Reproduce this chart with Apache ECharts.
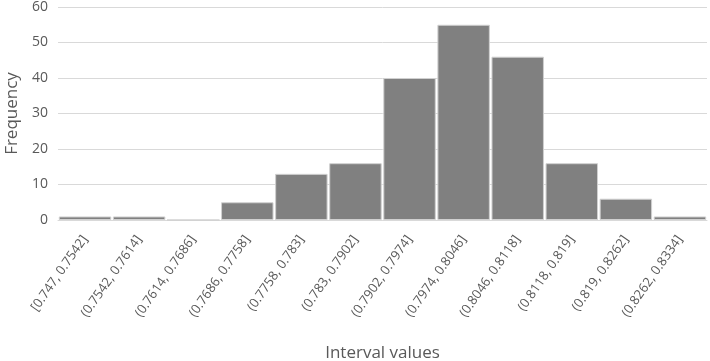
<!DOCTYPE html>
<html><head><meta charset="utf-8">
<script src="https://cdn.jsdelivr.net/npm/echarts@6/dist/echarts.min.js"></script>
<style>html,body{margin:0;padding:0;background:#fff}#c{width:710px;height:361px}</style>
</head><body><div id="c"></div>
<script>
const categories = ["[0.747, 0.7542]","(0.7542, 0.7614]","(0.7614, 0.7686]","(0.7686, 0.7758]","(0.7758, 0.783]","(0.783, 0.7902]","(0.7902, 0.7974]","(0.7974, 0.8046]","(0.8046, 0.8118]","(0.8118, 0.819]","(0.819, 0.8262]","(0.8262, 0.8334]"];
const frequency = [1, 1, 0, 5, 13, 16, 40, 55, 46, 16, 6, 1];
const yTicks = [0, 10, 20, 30, 40, 50, 60];

const chart = echarts.init(document.getElementById('c'), null, {renderer: 'canvas'});
chart.setOption({
  animation: false,
  textStyle: {fontFamily: 'Open Sans'},
  grid: {left: 58, right: 3, top: 7, bottom: 141, containLabel: false, outerBoundsMode: 'none'},
  xAxis: {
    type: 'category',
    data: categories,
    name: 'Interval values',
    nameLocation: 'middle',
    nameGap: 125,
    nameTextStyle: {fontSize: 17, color: '#595959'},
    axisLine: {lineStyle: {color: '#d9d9d9'}},
    axisTick: {show: false},
    axisLabel: {rotate: 55, fontSize: 13, color: '#595959', margin: 17, interval: 0}
  },
  yAxis: {
    type: 'value',
    min: yTicks[0], max: yTicks[yTicks.length - 1], interval: 10,
    name: 'Frequency',
    nameLocation: 'middle',
    nameGap: 29,
    nameTextStyle: {fontSize: 17, color: '#595959'},
    axisLine: {show: false},
    axisTick: {show: false},
    axisLabel: {fontSize: 14, color: '#595959', margin: 10},
    splitLine: {lineStyle: {color: '#d9d9d9', width: 1}}
  },
  series: [{
    type: 'bar',
    data: frequency,
    barCategoryGap: '3%',
    itemStyle: {color: '#808080', borderColor: '#d0d0d0', borderWidth: 1}
  }]
});
</script></body></html>
